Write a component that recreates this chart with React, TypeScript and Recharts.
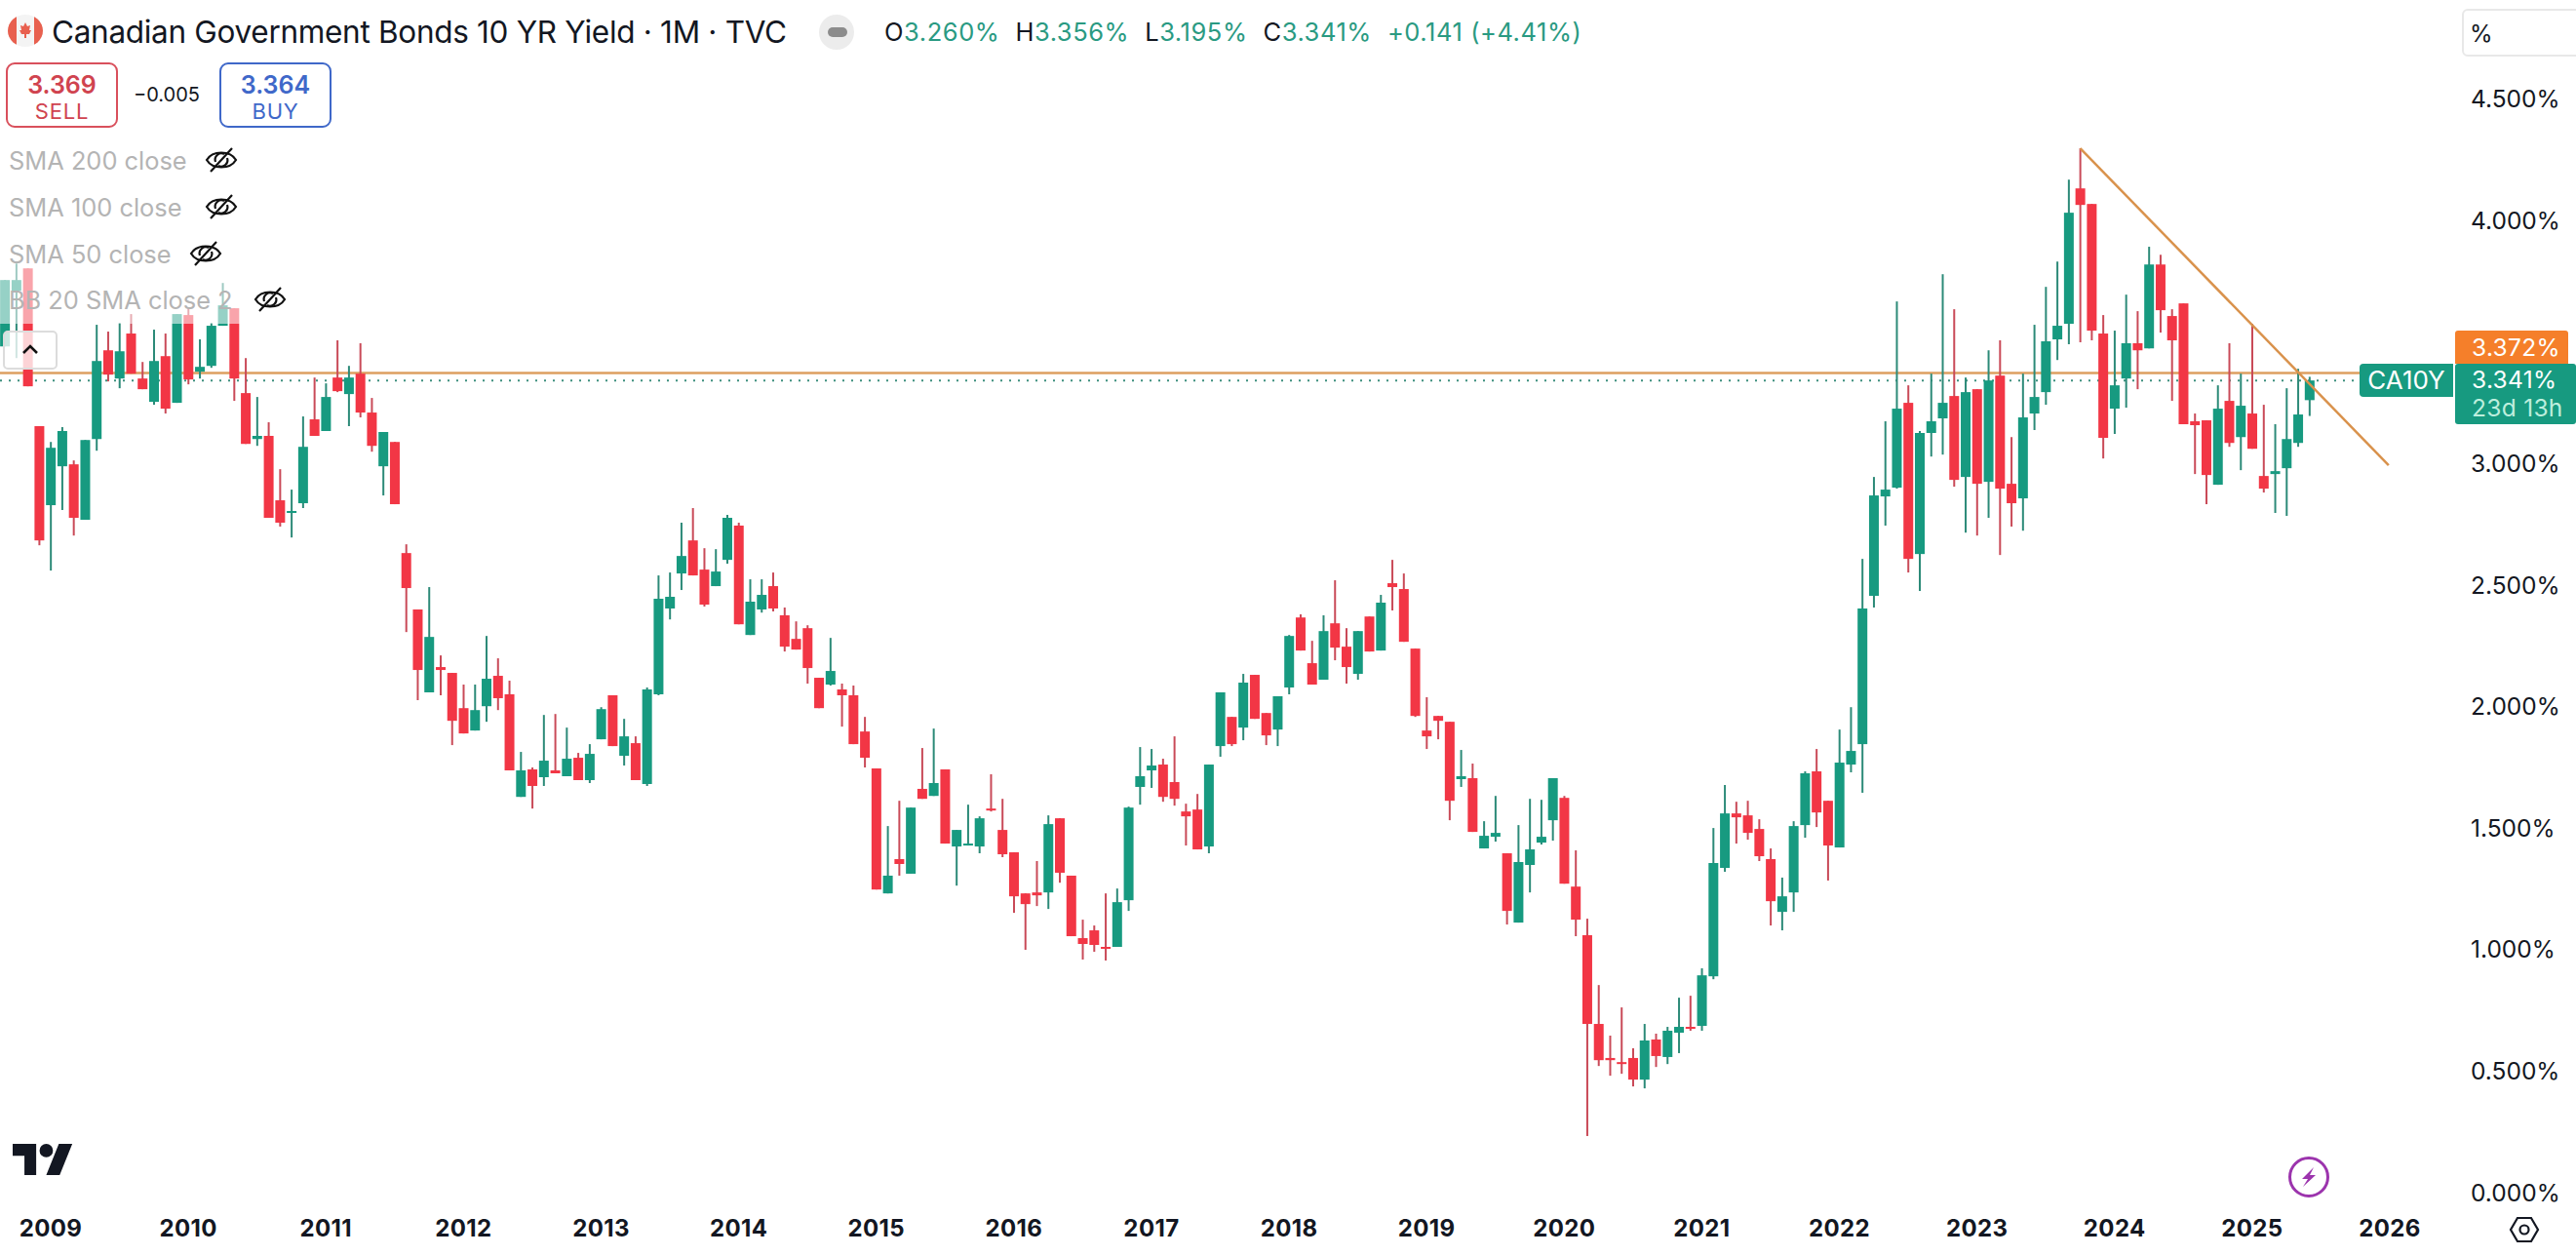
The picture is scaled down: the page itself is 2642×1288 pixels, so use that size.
import React from "react";
import { ComposedChart, Bar, XAxis, YAxis, ReferenceLine } from "recharts";

// Monthly candles, Sep 2008 .. Jun 2025 (percent)
const opens = [
  3.481,3.710,3.802,3.153,2.828,2.988,2.996,2.768,3.100,3.465,
  3.349,3.534,3.349,3.253,3.441,3.249,3.610,3.377,3.401,3.566,
  3.638,3.289,3.100,3.113,2.848,2.796,2.836,3.181,3.133,3.353,
  3.285,3.369,3.209,2.988,3.088,2.631,2.399,2.058,2.162,2.138,
  1.993,1.901,2.001,2.126,2.050,1.628,1.741,1.709,1.737,1.713,
  1.789,1.697,1.865,2.046,1.797,1.849,1.681,2.050,2.403,2.547,
  2.683,2.563,2.495,2.603,2.744,2.294,2.399,2.495,2.375,2.278,
  2.322,2.118,2.090,2.070,2.046,1.897,1.745,1.231,1.372,1.312,
  1.661,1.632,1.741,1.424,1.428,1.424,1.580,1.492,1.400,1.231,
  1.235,1.235,1.540,1.304,1.047,1.079,1.011,1.011,1.203,1.669,
  1.737,1.761,1.689,1.568,1.576,1.424,1.837,1.957,1.913,2.130,
  1.973,1.905,2.078,2.366,2.178,2.110,2.342,2.246,2.134,2.370,
  2.230,2.507,2.483,2.238,1.901,1.961,1.937,1.701,1.705,1.416,
  1.464,1.396,1.111,1.348,1.440,1.532,1.624,1.259,1.059,0.694,
  0.554,0.537,0.554,0.465,0.630,0.558,0.658,0.682,0.686,0.890,
  1.336,1.560,1.552,1.496,1.372,1.155,1.235,1.512,1.733,1.612,
  1.420,1.761,1.845,2.455,2.864,2.900,3.249,2.627,3.125,3.185,
  3.277,2.944,3.305,2.924,3.361,2.916,2.856,3.205,3.293,3.510,
  3.574,4.131,4.067,3.534,3.225,3.349,3.494,3.473,3.818,3.606,
  3.658,3.173,3.177,2.912,3.257,3.108,3.205,2.948,2.956,2.980,
  3.084,3.260,
];
const closes = [
  3.754,3.754,3.317,2.683,3.064,3.133,2.776,3.096,3.421,3.365,
  3.461,3.369,3.305,3.421,3.225,3.614,3.345,3.397,3.566,3.650,
  3.349,3.080,3.113,2.776,2.756,2.804,3.068,3.113,3.273,3.297,
  3.353,3.209,3.072,3.129,2.832,2.487,2.150,2.286,2.150,1.941,
  1.889,1.985,2.114,2.034,1.737,1.737,1.673,1.777,1.725,1.785,
  1.697,1.805,1.989,1.837,1.877,1.697,2.070,2.443,2.451,2.619,
  2.539,2.419,2.555,2.776,2.338,2.431,2.459,2.403,2.246,2.234,
  2.158,1.993,2.146,2.046,1.845,1.789,1.247,1.304,1.352,1.584,
  1.620,1.685,1.436,1.492,1.436,1.540,1.572,1.392,1.219,1.187,
  1.223,1.516,1.316,1.055,1.023,1.019,1.003,1.195,1.584,1.713,
  1.757,1.628,1.620,1.548,1.412,1.761,2.058,1.845,2.098,1.949,
  1.881,2.042,2.290,2.230,2.090,2.310,2.242,2.162,2.310,2.226,
  2.427,2.491,2.266,1.961,1.877,1.941,1.612,1.713,1.484,1.468,
  1.480,1.159,1.360,1.412,1.464,1.705,1.271,1.123,0.694,0.545,
  0.545,0.529,0.465,0.626,0.562,0.666,0.682,0.674,0.894,1.356,
  1.560,1.544,1.480,1.384,1.199,1.219,1.508,1.725,1.564,1.428,
  1.769,1.817,2.403,2.868,2.892,3.225,2.607,3.125,3.173,3.249,
  2.932,3.293,2.916,3.341,2.896,2.836,3.189,3.273,3.502,3.566,
  4.031,4.063,3.546,3.105,3.321,3.494,3.465,3.818,3.630,3.506,
  3.161,3.157,2.952,3.225,3.084,3.237,3.060,2.896,2.968,3.100,
  3.201,3.341,
];
const highs = [
  3.754,3.822,3.802,3.153,3.088,3.149,3.012,3.096,3.570,3.542,
  3.578,3.614,3.417,3.550,3.534,3.614,3.638,3.510,3.578,3.742,
  3.638,3.433,3.273,3.169,2.976,2.892,3.193,3.353,3.329,3.506,
  3.401,3.494,3.269,3.129,3.088,2.667,2.399,2.491,2.210,2.138,
  2.090,2.090,2.290,2.198,2.106,1.813,1.749,1.965,1.969,1.913,
  1.809,1.845,1.997,2.046,1.949,1.877,2.078,2.539,2.551,2.756,
  2.816,2.651,2.647,2.788,2.756,2.523,2.523,2.551,2.407,2.350,
  2.334,2.118,2.282,2.094,2.086,1.957,1.745,1.508,1.612,1.584,
  1.829,1.909,1.741,1.492,1.596,1.548,1.721,1.620,1.400,1.231,
  1.364,1.552,1.540,1.304,1.123,1.099,1.231,1.251,1.588,1.833,
  1.825,1.785,1.877,1.600,1.640,1.761,2.058,1.957,2.134,2.130,
  1.973,2.042,2.294,2.379,2.270,2.375,2.519,2.322,2.310,2.370,
  2.459,2.603,2.547,2.238,2.038,1.961,1.937,1.821,1.765,1.528,
  1.632,1.396,1.512,1.620,1.616,1.705,1.632,1.408,1.127,0.854,
  0.646,0.762,0.594,0.694,0.654,0.682,0.802,0.810,0.923,1.500,
  1.677,1.608,1.612,1.536,1.416,1.296,1.528,1.733,1.825,1.612,
  1.905,1.997,2.607,2.944,3.173,3.666,3.321,3.133,3.369,3.778,
  3.634,3.353,3.305,3.465,3.506,3.108,3.369,3.570,3.726,3.830,
  4.167,4.296,4.067,3.610,3.546,3.694,3.626,3.891,3.858,3.634,
  3.658,3.205,3.177,3.321,3.494,3.369,3.574,3.241,3.161,3.309,
  3.389,3.356,
];
const lows = [
  3.481,3.433,3.317,2.663,2.559,2.808,2.703,2.768,3.052,3.337,
  3.309,3.369,3.305,3.241,3.205,3.249,3.325,3.349,3.393,3.566,
  3.257,3.080,3.072,2.776,2.740,2.695,2.816,3.113,3.133,3.293,
  3.153,3.189,3.048,2.868,2.832,2.306,2.026,2.058,2.046,1.841,
  1.889,1.901,1.937,1.985,1.737,1.628,1.580,1.673,1.725,1.713,
  1.697,1.685,1.865,1.837,1.757,1.697,1.673,2.046,2.358,2.479,
  2.539,2.411,2.495,2.587,2.338,2.294,2.386,2.391,2.226,2.234,
  2.094,1.993,2.086,1.917,1.845,1.749,1.247,1.231,1.304,1.312,
  1.620,1.632,1.436,1.263,1.428,1.396,1.568,1.380,1.151,0.999,
  1.179,1.167,1.275,1.055,0.959,0.991,0.955,1.011,1.159,1.596,
  1.665,1.608,1.592,1.428,1.412,1.396,1.793,1.837,1.861,1.949,
  1.841,1.837,2.050,2.230,2.090,2.110,2.190,2.094,2.110,2.226,
  2.230,2.395,2.266,1.957,1.825,1.865,1.532,1.669,1.484,1.416,
  1.444,1.103,1.111,1.235,1.432,1.448,1.271,1.055,0.233,0.521,
  0.481,0.489,0.437,0.429,0.517,0.529,0.574,0.666,0.666,0.878,
  1.320,1.436,1.452,1.364,1.099,1.079,1.155,1.460,1.504,1.284,
  1.420,1.729,1.645,2.407,2.744,2.896,2.551,2.475,3.028,3.036,
  2.904,2.715,2.703,2.776,2.623,2.740,2.723,3.137,3.241,3.425,
  3.490,3.498,3.506,3.020,3.121,3.229,3.305,3.473,3.538,3.257,
  3.161,2.956,2.832,2.912,3.068,2.972,3.060,2.880,2.796,2.784,
  3.068,3.195,
];

const yearLabels = ["2009","2010","2011","2012","2013","2014","2015","2016","2017","2018","2019","2020","2021","2022","2023","2024","2025","2026"];
const yearTickIndex = [4,16,28,40,52,64,76,88,100,112,124,136,148,160,172,184,196,208];
const yTicks = [0,0.5,1,1.5,2,2.5,3,4,4.5];
const resistanceLevel = 3.372;
const lastClose = 3.341;
const trendStart = { x: 181, y: 4.296 };
const trendEnd = { x: 207.9, y: 2.992 };

const legendRows = [
  { label: "SMA 200 close", top: 165, eyeX: 227 },
  { label: "SMA 100 close", top: 213, eyeX: 227 },
  { label: "SMA 50 close", top: 261, eyeX: 211 },
  { label: "BB 20 SMA close 2", top: 308, eyeX: 277 },
];
const ohlc = [
  ["O", "3.260%"], ["H", "3.356%"], ["L", "3.195%"], ["C", "3.341%"],
];

const data = opens.map((o, i) => ({
  i, open: o, close: closes[i], high: highs[i], low: lows[i],
  range: [lows[i], highs[i]],
}));

const UP = "#179a80";
const DOWN = "#f23645";
const UP_WICK = "#2c8a78";
const DOWN_WICK = "#c94a58";
const FONT = "Inter, 'Noto Sans', sans-serif";

function Candle(props: any) {
  const { x, y, width, height, payload } = props;
  const { open, close, high, low } = payload;
  const up = close >= open;
  const k = height / (high - low || 1);
  const cx = x + width / 2;
  const top = y + (high - Math.max(open, close)) * k;
  const bot = y + (high - Math.min(open, close)) * k;
  return (
    <g>
      <line x1={cx} x2={cx} y1={y} y2={y + height} stroke={up ? UP_WICK : DOWN_WICK} strokeWidth={2} />
      <rect x={x} y={top} width={width} height={Math.max(bot - top, 2)} fill={up ? UP : DOWN} />
    </g>
  );
}

function YearTick(props: any) {
  const { x, y, payload } = props;
  const idx = yearTickIndex.indexOf(payload.value);
  return (
    <text x={x} y={y} dy={20} textAnchor="middle" fontFamily={FONT} fontWeight={700} fontSize={24} letterSpacing={0.4} fill="#131722">
      {yearLabels[idx]}
    </text>
  );
}

function Eye({ x, y }: { x: number; y: number }) {
  return (
    <svg style={{ position: "absolute", left: x - 17, top: y - 15 }} width={34} height={30} viewBox="0 0 34 30" fill="none" stroke="#111" strokeWidth={2.2}>
      <path d="M2 15 C8 5 26 5 32 15 C26 25 8 25 2 15 Z" />
      <path d="M11 17 a6.5 6.5 0 0 1 9 -8 M23 13 a6.5 6.5 0 0 1 -9 8" />
      <line x1={6} y1={27} x2={28} y2={3} />
    </svg>
  );
}

const abs = (left: number, top: number, extra: React.CSSProperties = {}): React.CSSProperties => ({
  position: "absolute", left, top, fontFamily: FONT, whiteSpace: "nowrap", ...extra,
});

export default function App() {
  return (
    <div style={{ position: "absolute", left: 0, top: 0, width: 2642, height: 1288, overflow: "hidden", background: "#fff" }}>
      <ComposedChart width={2642} height={1288} data={data} margin={{ top: 0, right: 0, bottom: 0, left: 0 }}>
        <XAxis
          dataKey="i" type="number" domain={[-0.425, 211.74]} ticks={yearTickIndex}
          height={48} axisLine={false} tickLine={false} tick={<YearTick />} interval={0}
        />
        <YAxis
          orientation="right" width={147} domain={[-0.068, 4.906]} ticks={yTicks} interval={0}
          axisLine={false} tickLine={false} tickMargin={33}
          tick={{ fontFamily: FONT, fontSize: 24.5, fill: "#131722" }}
          tickFormatter={(v: number) => v.toFixed(3) + "%"}
        />
        <ReferenceLine y={resistanceLevel} stroke="#dd9f60" strokeWidth={2.5} zIndex={100} />
        <ReferenceLine y={lastClose} stroke="#3d8f7e" strokeWidth={2} strokeDasharray="2 7" zIndex={100} />
        <Bar dataKey="range" barSize={10} isAnimationActive={false} shape={<Candle />} />
        <ReferenceLine
          segment={[trendStart, trendEnd]} stroke="#d9924c" strokeWidth={2.5}
        />
      </ComposedChart>

      {/* legend fade */}
      <div style={abs(0, 140, { width: 248, height: 192, background: "rgba(255,255,255,0.55)" })} />
      <div style={abs(3, 339, { width: 56, height: 40, boxSizing: "border-box", border: "2px solid #dcdcdc", borderRadius: 5, background: "rgba(255,255,255,0.78)" })} />
      <svg style={abs(21, 351)} width={20} height={14} viewBox="0 0 20 14" fill="none" stroke="#111" strokeWidth={2.6}><path d="M3 11 L10 4 L17 11" /></svg>

      {/* header */}
      <svg style={abs(8, 15)} width={36} height={33} viewBox="0 0 36 33">
        <defs><clipPath id="flagclip"><ellipse cx={18} cy={16.5} rx={18} ry={16.5} /></clipPath></defs>
        <g clipPath="url(#flagclip)">
          <rect width={36} height={33} fill="#f4f4f4" />
          <rect width={9} height={33} fill="#e8604f" />
          <rect x={27} width={9} height={33} fill="#e8604f" />
          <path d="M18 8 L20 12 L23 11 L22 16 L24 16 L22 20 L19 20 L19 24 L17 24 L17 20 L14 20 L12 16 L14 16 L13 11 L16 12 Z" fill="#e8604f" />
        </g>
      </svg>
      <div style={abs(53, 13, { fontSize: 31.5, color: "#131722", letterSpacing: -0.3 })}>Canadian Government Bonds 10 YR Yield · 1M · TVC</div>
      <div style={abs(840, 15, { width: 36, height: 36, borderRadius: 18, background: "#ececec" })} />
      <div style={abs(849, 28, { width: 20, height: 10, borderRadius: 5, background: "#8c8c8c" })} />
      <div style={abs(907, 17, { fontSize: 25.5, color: "#2a9a82", letterSpacing: 0.55 })}>
        {ohlc.map(([k, v]) => (
          <span key={k} style={{ marginRight: 16 }}><span style={{ color: "#131722" }}>{k}</span>{v}</span>
        ))}
        <span>+0.141 (+4.41%)</span>
      </div>

      <div style={abs(6, 64, { width: 115, height: 67, boxSizing: "border-box", border: "2px solid #d9505c", borderRadius: 9, textAlign: "center", color: "#d0434f", background: "#fff" })}>
        <div style={{ fontSize: 25, fontWeight: 600, marginTop: 6, lineHeight: "30px" }}>3.369</div>
        <div style={{ fontSize: 22, lineHeight: "24px", letterSpacing: 0.8 }}>SELL</div>
      </div>
      <div style={abs(137, 85, { fontSize: 20, color: "#131722" })}>−0.005</div>
      <div style={abs(225, 64, { width: 115, height: 67, boxSizing: "border-box", border: "2px solid #3f68c9", borderRadius: 9, textAlign: "center", color: "#3f68c9", background: "#fff" })}>
        <div style={{ fontSize: 25, fontWeight: 600, marginTop: 6, lineHeight: "30px" }}>3.364</div>
        <div style={{ fontSize: 22, lineHeight: "24px", letterSpacing: 0.8 }}>BUY</div>
      </div>

      {legendRows.map((r) => (
        <React.Fragment key={r.label}>
          <div style={abs(9, r.top - 15, { fontSize: 25.4, lineHeight: "30px", color: "#b4b4b4" })}>{r.label}</div>
          <Eye x={r.eyeX} y={r.top - 1} />
        </React.Fragment>
      ))}

      {/* price scale tags */}
      <div style={abs(2525, 9, { width: 130, height: 49, boxSizing: "border-box", border: "2px solid #e8e8e8", borderRadius: 6, background: "#fff" })} />
      <div style={abs(2533, 20, { fontSize: 24, color: "#131722" })}>%</div>
      <div style={abs(2518, 339, { width: 116, height: 34, borderRadius: "3px 3px 0 0", background: "#f57f2a", color: "#fff", fontSize: 24.5, lineHeight: "34px", paddingLeft: 17, boxSizing: "border-box", letterSpacing: 0.3 })}>3.372%</div>
      <div style={abs(2420, 373, { width: 96, height: 34, borderRadius: "4px 0 0 4px", background: UP, color: "#fff", fontSize: 26, lineHeight: "34px", textAlign: "center" })}>CA10Y</div>
      <div style={abs(2518, 373, { width: 124, height: 62, borderRadius: 3, background: UP, color: "#fff", fontSize: 24.5, paddingLeft: 17, boxSizing: "border-box", letterSpacing: 0.3 })}>
        <div style={{ lineHeight: "32px" }}>3.341%</div>
        <div style={{ lineHeight: "26px", color: "#bdeedd" }}>23d 13h</div>
      </div>

      {/* logo + icons */}
      <svg style={abs(13, 1173)} width={62} height={32} viewBox="0 0 36 18.5">
        <path d="M14 18.5H7V7H0V0h14v18.5zM28 18.5h-8L27.5 0h8L28 18.5z" fill="#131722" />
        <circle cx={20} cy={4} r={4} fill="#131722" />
      </svg>
      <svg style={abs(2346, 1185)} width={44} height={44} viewBox="0 0 44 44">
        <circle cx={22} cy={22} r={19.5} fill="none" stroke="#9c34ad" strokeWidth={3} />
        <path d="M27 12 L15 24 L21 24 L16 32 L29 20 L23 20 Z" fill="#9c34ad" />
      </svg>
      <svg style={abs(2573, 1246)} width={32} height={30} viewBox="0 0 32 30" fill="none" stroke="#131722" strokeWidth={2.2}>
        <path d="M9 3 H23 L30 15 L23 27 H9 L2 15 Z" />
        <circle cx={16} cy={15} r={4.5} />
      </svg>
    </div>
  );
}
